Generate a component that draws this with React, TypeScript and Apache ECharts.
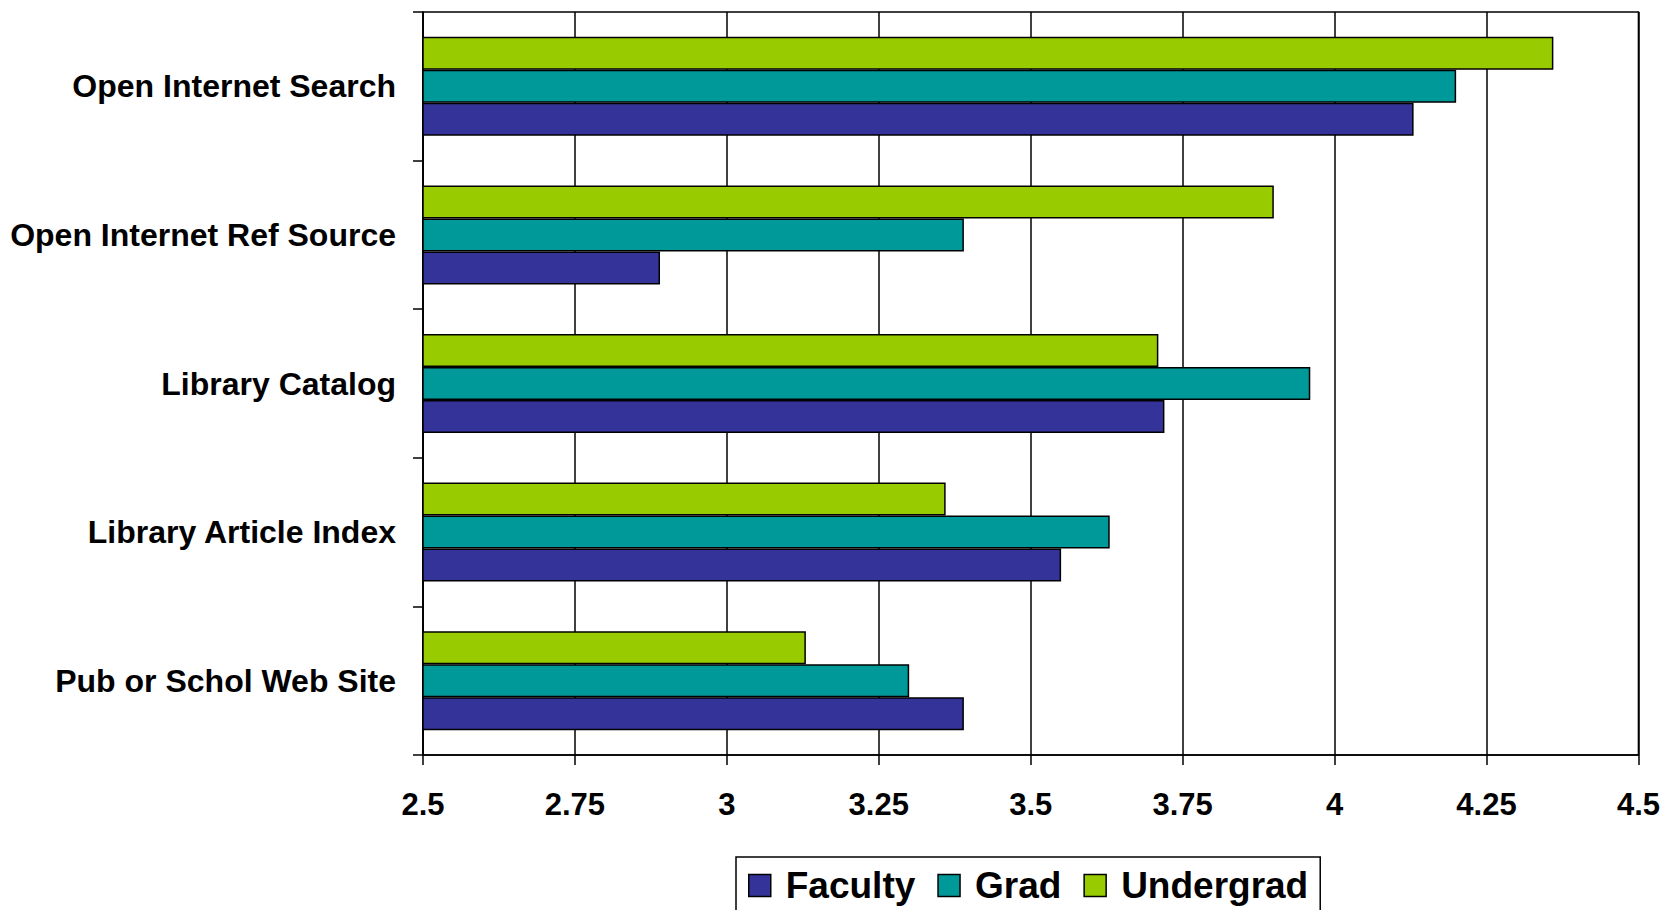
import React, { useEffect, useRef } from "react";
import * as echarts from "echarts";

const categories = [
  "Open Internet Search",
  "Open Internet Ref Source",
  "Library Catalog",
  "Library Article Index",
  "Pub or Schol Web Site",
];
const faculty = [4.13, 2.89, 3.72, 3.55, 3.39];
const grad = [4.2, 3.39, 3.96, 3.63, 3.3];
const undergrad = [4.36, 3.9, 3.71, 3.36, 3.13];
const seriesNames = ["Faculty", "Grad", "Undergrad"];
const colors = ["#333399", "#009999", "#99CC00"];

const FONT = "'Liberation Sans', Arial, sans-serif";

export default function App() {
  const ref = useRef<HTMLDivElement>(null);
  useEffect(() => {
    if (!ref.current) return;
    const chart = echarts.init(ref.current, null, { renderer: "svg" });
    const values = [faculty, grad, undergrad];
    const series = seriesNames
      .map((name, i) => ({
        name,
        type: "bar",
        data: values[i],
        barWidth: 33,
        barGap: "0%",
        itemStyle: { color: colors[i], borderColor: "#000", borderWidth: 1.5 },
      }))
      .reverse();
    chart.setOption({
      animation: false,
      backgroundColor: "#ffffff",
      grid: {
        left: 423,
        top: 12,
        width: 1216,
        height: 743,
        show: true,
        borderColor: "#000",
        borderWidth: 1.5,
        containLabel: false,
      },
      legend: {
        data: seriesNames,
        left: 736,
        top: 857,
        orient: "horizontal",
        padding: [10, 12, 10, 12],
        itemWidth: 22,
        itemHeight: 22,
        itemGap: 22,
        borderColor: "#000",
        borderWidth: 1.5,
        icon: "rect",
        itemStyle: { borderColor: "#000", borderWidth: 1.5 },
        textStyle: {
          fontFamily: FONT,
          fontWeight: "bold",
          fontSize: 37,
          color: "#000",
          padding: [0, 0, 0, 10],
        },
      },
      xAxis: {
        type: "value",
        min: 2.5,
        max: 4.5,
        interval: 0.25,
        axisLine: { show: true, lineStyle: { color: "#000", width: 1.5 } },
        axisTick: { show: true, length: 10, lineStyle: { color: "#000", width: 1.5 } },
        splitLine: { show: true, lineStyle: { color: "#000", width: 1.5 } },
        axisLabel: {
          margin: 34,
          fontFamily: FONT,
          fontWeight: "bold",
          fontSize: 31,
          color: "#000",
          formatter: (v: number) => String(v),
        },
      },
      yAxis: {
        type: "category",
        data: categories,
        inverse: true,
        axisLine: { show: true, lineStyle: { color: "#000", width: 1.5 } },
        axisTick: { show: true, length: 10, alignWithLabel: false, lineStyle: { color: "#000", width: 1.5 } },
        splitLine: { show: false },
        axisLabel: {
          margin: 27,
          fontFamily: FONT,
          fontWeight: "bold",
          fontSize: 32,
          color: "#000",
        },
      },
      series,
    });
    return () => chart.dispose();
  }, []);
  return (
    <div
      ref={ref}
      style={{ position: "fixed", left: 0, top: 0, width: 1663, height: 910 }}
    />
  );
}
